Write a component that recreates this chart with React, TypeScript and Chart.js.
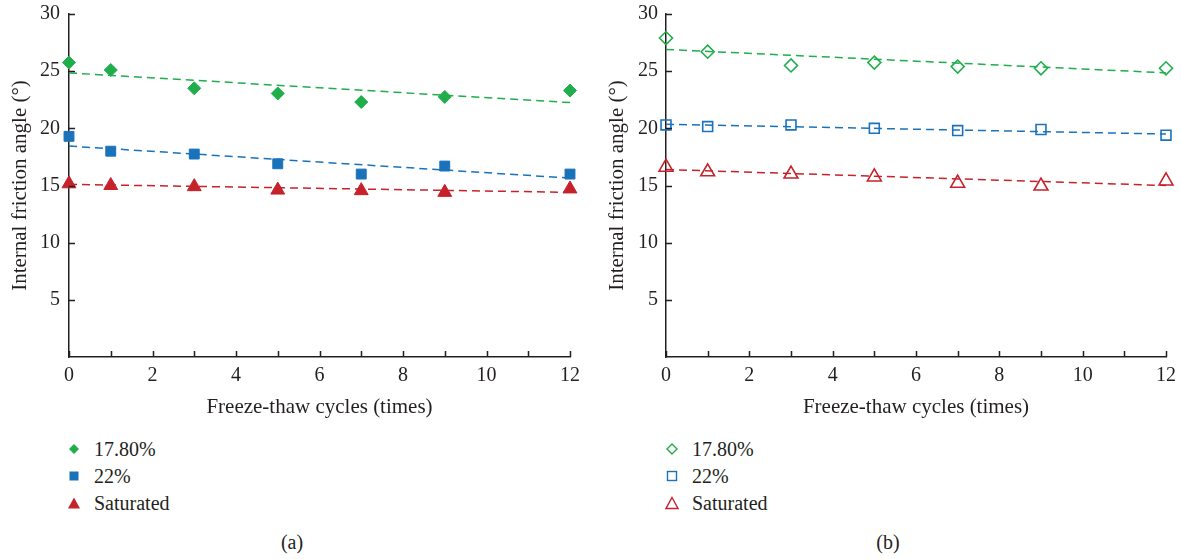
import React, { useEffect, useRef } from 'react';
import { Chart, registerables } from 'chart.js';

Chart.register(...registerables);

// ---------- data ----------
const cycles = [0, 1, 3, 5, 7, 9, 12];
const trendX = [0, 12];
const seriesNames = ['17.80%', '22%', 'Saturated'];

// panel (a)
const a178 = [25.75, 25.1, 23.5, 23.05, 22.3, 22.75, 23.3];
const a22 = [19.3, 18.0, 17.75, 16.9, 16.0, 16.7, 16.0];
const aSat = [15.15, 15.0, 14.9, 14.6, 14.55, 14.4, 14.7];
const aTrend178 = [24.85, 22.25];
const aTrend22 = [18.45, 15.65];
const aTrendSat = [15.1, 14.4];

// panel (b)
const b178 = [27.9, 26.7, 25.5, 25.75, 25.4, 25.25, 25.25];
const b22 = [20.3, 20.15, 20.3, 20.0, 19.8, 19.9, 19.4];
const bSat = [16.6, 16.2, 16.0, 15.75, 15.2, 14.95, 15.4];
const bTrend178 = [26.9, 24.85];
const bTrend22 = [20.35, 19.5];
const bTrendSat = [16.4, 15.0];

const xTickStep = 1;
const yTickStep = 5;
const xAxisTitle = 'Freeze-thaw cycles (times)';
const yAxisTitle = 'Internal friction angle (°)';

// ---------- style ----------
const GREEN = '#1fae4b';
const BLUE = '#1a72bb';
const RED = '#c5222b';
const COLORS = [GREEN, BLUE, RED];
const STYLES = ['rectRot', 'rect', 'triangle'];
const RADII = [6.5, 7, 8];
const AXIS = '#231f20';
const TEXT = '#231f20';
const FONT = '"Liberation Serif", "Times New Roman", serif';

const innerTicks = {
  id: 'innerTicks',
  afterDraw(chart: any) {
    const { ctx, chartArea, scales } = chart;
    ctx.save();
    ctx.strokeStyle = AXIS;
    ctx.lineWidth = 1.5;
    ctx.beginPath();
    scales.x.ticks.forEach((t: any) => {
      const px = Math.round(scales.x.getPixelForValue(t.value)) + 0.5;
      ctx.moveTo(px, chartArea.bottom);
      ctx.lineTo(px, chartArea.bottom - 6);
    });
    scales.y.ticks.forEach((t: any) => {
      if (t.value === 0) return;
      const py = Math.round(scales.y.getPixelForValue(t.value)) + 0.5;
      ctx.moveTo(chartArea.left, py);
      ctx.lineTo(chartArea.left + 6, py);
    });
    ctx.stroke();
    ctx.restore();
  },
};

type PanelProps = {
  left: number;
  width: number;
  yWidth: number;
  padRight: number;
  yTitlePad: number;
  yTickPad: number;
  values: number[][];
  trends: number[][];
  filled: boolean;
};

function Panel(p: PanelProps) {
  const ref = useRef<HTMLCanvasElement | null>(null);
  useEffect(() => {
    if (!ref.current) return;
    const pointSets = p.values.map((vals, i) => ({
      label: seriesNames[i],
      data: cycles.map((c, j) => ({ x: c, y: vals[j] })),
      pointStyle: STYLES[i],
      pointRadius: RADII[i],
      pointHoverRadius: RADII[i],
      pointBackgroundColor: p.filled ? COLORS[i] : 'rgba(0,0,0,0)',
      pointBorderColor: COLORS[i],
      pointBorderWidth: p.filled ? 1 : 1.6,
      backgroundColor: COLORS[i],
      borderColor: COLORS[i],
      showLine: false,
      clip: false,
    }));
    const trendSets = p.trends.map((tv, i) => ({
      label: seriesNames[i] + ' trend',
      data: trendX.map((x, j) => ({ x, y: tv[j] })),
      showLine: true,
      pointRadius: 0,
      borderColor: COLORS[i],
      borderWidth: 1.5,
      borderDash: [8, 5],
      fill: false,
      clip: false,
    }));
    const tickFont = { family: FONT, size: 20 };
    const titleFont = { family: FONT, size: 21 };
    const chart = new Chart(ref.current, {
      type: 'scatter',
      data: { datasets: [...pointSets, ...trendSets] as any },
      options: {
        responsive: false,
        animation: false,
        layout: { padding: { top: 14, right: p.padRight, left: 0, bottom: 0 } },
        plugins: { legend: { display: false }, tooltip: { enabled: false } },
        scales: {
          x: {
            type: 'linear',
            min: 0,
            max: 12,
            grid: { display: false, drawTicks: false },
            border: { display: true, color: AXIS, width: 1.5 },
            ticks: {
              stepSize: xTickStep,
              autoSkip: false,
              maxRotation: 0,
              padding: 7,
              color: TEXT,
              font: tickFont,
              callback: (v: any) => (Number(v) % 2 === 0 ? String(v) : ''),
            },
            title: {
              display: true,
              text: xAxisTitle,
              color: TEXT,
              font: titleFont,
              padding: { top: 0, bottom: 0 },
            },
            afterFit: (s: any) => {
              s.height = 63;
              s.paddingLeft = 0;
              s.paddingRight = 0;
            },
          },
          y: {
            type: 'linear',
            min: 0,
            max: 30,
            grid: { display: false, drawTicks: false },
            border: { display: true, color: AXIS, width: 1.5 },
            ticks: {
              stepSize: yTickStep,
              padding: p.yTickPad,
              color: TEXT,
              font: tickFont,
              callback: (v: any) => (Number(v) === 0 ? '' : String(v)),
            },
            title: {
              display: true,
              text: yAxisTitle,
              color: TEXT,
              font: titleFont,
              padding: { top: p.yTitlePad, bottom: 0 },
            },
            afterFit: (s: any) => {
              s.width = p.yWidth;
              s.paddingTop = 0;
              s.paddingBottom = 0;
            },
          },
        },
      } as any,
      plugins: [innerTicks],
    });
    return () => chart.destroy();
  }, []);
  return (
    <canvas
      ref={ref}
      width={p.width}
      height={420}
      style={{ position: 'absolute', left: p.left, top: 0, width: p.width, height: 420 }}
    />
  );
}

function Marker({ i, filled }: { i: number; filled: boolean }) {
  const c = COLORS[i];
  const fill = filled ? c : 'none';
  const sw = filled ? 0 : 1.4;
  let shape;
  if (i === 0) shape = <polygon points="7,2 12,7 7,12 2,7" fill={fill} stroke={c} strokeWidth={sw} />;
  else if (i === 1) shape = <rect x={2.5} y={2.5} width={9} height={9} fill={fill} stroke={c} strokeWidth={sw} />;
  else shape = <polygon points="7,1.5 13,12.5 1,12.5" fill={fill} stroke={c} strokeWidth={sw} />;
  return (
    <svg width={14} height={14} style={{ position: 'absolute', left: 0, top: 6 }}>
      {shape}
    </svg>
  );
}

function Legend({ left, filled }: { left: number; filled: boolean }) {
  return (
    <div style={{ position: 'absolute', left, top: 436, width: 200, height: 90 }}>
      {seriesNames.map((n, i) => (
        <div key={n} style={{ position: 'absolute', left: 0, top: i * 27, height: 26, width: 200 }}>
          <Marker i={i} filled={filled} />
          <span
            style={{
              position: 'absolute',
              left: 27,
              top: 0,
              fontFamily: FONT,
              fontSize: 20,
              lineHeight: '26px',
              color: TEXT,
              whiteSpace: 'nowrap',
            }}
          >
            {n}
          </span>
        </div>
      ))}
    </div>
  );
}

function Caption({ cx, text }: { cx: number; text: string }) {
  return (
    <div
      style={{
        position: 'absolute',
        left: cx - 40,
        width: 80,
        top: 529,
        textAlign: 'center',
        fontFamily: FONT,
        fontSize: 20,
        lineHeight: '26px',
        color: TEXT,
      }}
    >
      {text}
    </div>
  );
}

export default function App() {
  return (
    <div style={{ position: 'fixed', left: 0, top: 0, width: 1181, height: 559, background: '#fff', overflow: 'hidden' }}>
      <Panel
        left={0}
        width={600}
        yWidth={69}
        padRight={30}
        yTitlePad={8}
        yTickPad={9}
        values={[a178, a22, aSat]}
        trends={[aTrend178, aTrend22, aTrendSat]}
        filled={true}
      />
      <Panel
        left={600}
        width={581}
        yWidth={66}
        padRight={15}
        yTitlePad={5}
        yTickPad={8}
        values={[b178, b22, bSat]}
        trends={[bTrend178, bTrend22, bTrendSat]}
        filled={false}
      />
      <Legend left={67} filled={true} />
      <Legend left={665} filled={false} />
      <Caption cx={292} text="(a)" />
      <Caption cx={888} text="(b)" />
    </div>
  );
}
